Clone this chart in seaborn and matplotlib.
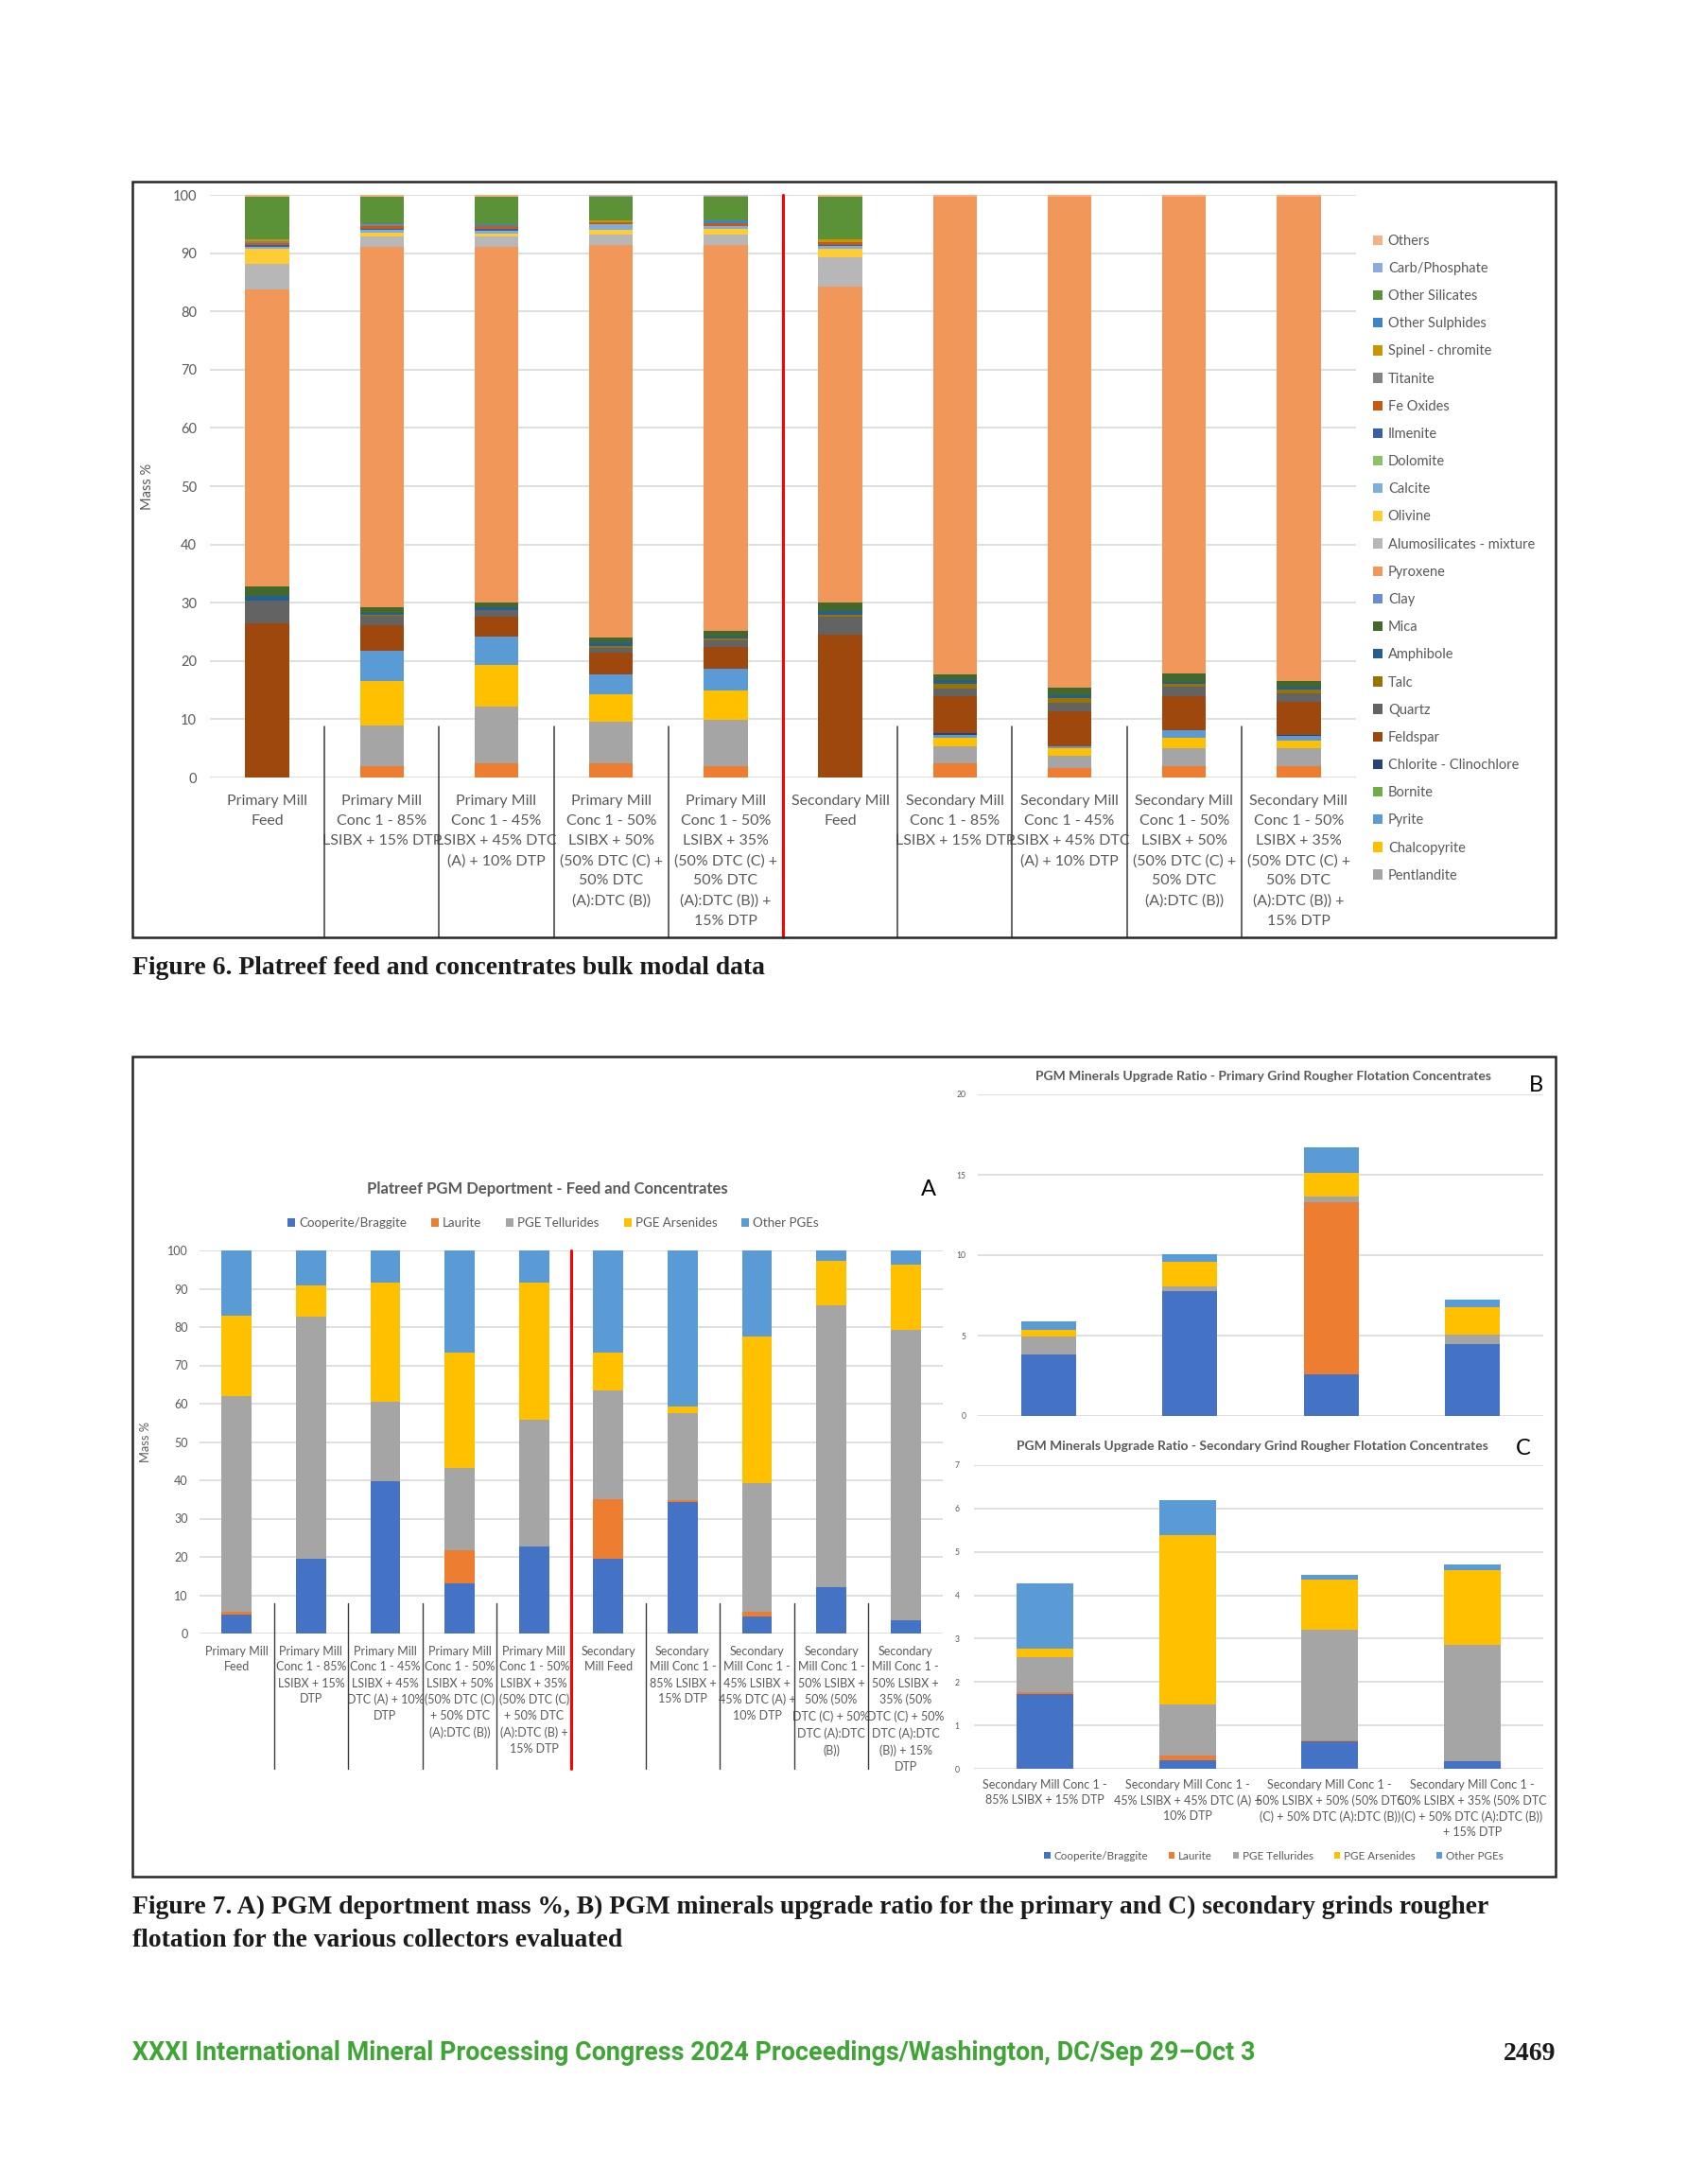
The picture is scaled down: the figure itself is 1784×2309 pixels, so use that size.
import numpy as np
import matplotlib
matplotlib.use("Agg")
import matplotlib.pyplot as plt
from matplotlib.patches import Patch, Rectangle
import seaborn as sns

W, H = 1784, 2309

# ---- Figure 6: bulk modal data (mass %) ----
f6_cats = ["PMF", "PM85", "PM45", "PM50", "PM35", "SMF", "SM85", "SM45", "SM50", "SM35"]
f6_labels = [
    "Primary Mill\nFeed",
    "Primary Mill\nConc 1 - 85%\nLSIBX + 15% DTP",
    "Primary Mill\nConc 1 - 45%\nLSIBX + 45% DTC\n(A) + 10% DTP",
    "Primary Mill\nConc 1 - 50%\nLSIBX + 50%\n(50% DTC (C) +\n50% DTC\n(A):DTC (B))",
    "Primary Mill\nConc 1 - 50%\nLSIBX + 35%\n(50% DTC (C) +\n50% DTC\n(A):DTC (B)) +\n15% DTP",
    "Secondary Mill\nFeed",
    "Secondary Mill\nConc 1 - 85%\nLSIBX + 15% DTP",
    "Secondary Mill\nConc 1 - 45%\nLSIBX + 45% DTC\n(A) + 10% DTP",
    "Secondary Mill\nConc 1 - 50%\nLSIBX + 50%\n(50% DTC (C) +\n50% DTC\n(A):DTC (B))",
    "Secondary Mill\nConc 1 - 50%\nLSIBX + 35%\n(50% DTC (C) +\n50% DTC\n(A):DTC (B)) +\n15% DTP",
]
pyrrhotite = [0, 2.0, 2.4, 2.4, 1.9, 0, 2.4, 1.65, 1.9, 2.0]
pentlandite = [0, 7.0, 9.8, 7.1, 7.95, 0, 3.0, 2.1, 3.15, 3.0]
chalcopyrite = [0, 7.6, 7.1, 4.8, 5.1, 0, 1.35, 1.25, 1.75, 1.4]
pyrite = [0, 5.1, 4.9, 3.4, 3.8, 0, 0.55, 0.4, 1.25, 0.7]
bornite = [0, 0, 0, 0, 0, 0, 0, 0, 0, 0]
chlorite = [0, 0, 0, 0, 0, 0, 0.25, 0, 0, 0.25]
feldspar = [26.5, 4.5, 3.35, 3.7, 3.7, 24.55, 6.35, 5.9, 5.85, 5.7]
quartz = [3.9, 1.5, 1.2, 0.9, 1.15, 3.1, 1.4, 1.6, 1.7, 1.35]
talc = [0, 0.3, 0, 0.25, 0.3, 0.35, 0.8, 0.7, 0.4, 0.65]
amphibole = [0.8, 0.3, 0.55, 0.65, 0.35, 0.65, 0.6, 0.55, 0.45, 0.55]
mica = [1.6, 1.0, 0.8, 0.9, 0.9, 1.35, 1.0, 1.2, 1.45, 1.0]
clay = [0, 0, 0, 0, 0, 0, 0, 0, 0, 0]
pyroxene = [51.0, 61.8, 61.0, 67.3, 66.25, 54.3, 82.0, 84.35, 81.8, 83.1]
alumosilicates = [4.3, 1.7, 1.7, 1.8, 1.75, 5.05, 0, 0, 0, 0]
olivine = [2.6, 0.7, 0.6, 0.85, 1.05, 1.45, 0, 0, 0, 0]
calcite = [0.4, 0.5, 0.5, 0.85, 0.5, 0.45, 0, 0, 0, 0]
dolomite = [0, 0, 0, 0, 0, 0, 0, 0, 0, 0]
ilmenite = [0.3, 0.2, 0.2, 0, 0, 0.2, 0, 0, 0, 0]
fe_oxides = [0.4, 0.4, 0.5, 0.45, 0.4, 0.45, 0, 0, 0, 0]
titanite = [0.2, 0.3, 0, 0, 0, 0, 0, 0, 0, 0]
spinel = [0.4, 0, 0, 0.2, 0, 0.5, 0, 0, 0, 0]
other_sulphides = [0, 0.3, 0.3, 0, 0.45, 0, 0, 0, 0, 0]
other_silicates = [7.2, 4.4, 4.7, 4.05, 4.05, 7.2, 0, 0, 0, 0]
carb_phosphate = [0, 0, 0, 0.3, 0.3, 0, 0, 0, 0, 0]
others = [0.4, 0.4, 0.4, 0.1, 0.1, 0.4, 0.3, 0.3, 0.3, 0.3]

# bottom -> top, (name, colour, values, in legend)
f6_series = [
    ("Pyrrhotite", "#ED7D31", pyrrhotite, False),
    ("Pentlandite", "#A5A5A5", pentlandite, True),
    ("Chalcopyrite", "#FFC000", chalcopyrite, True),
    ("Pyrite", "#5B9BD5", pyrite, True),
    ("Bornite", "#70AD47", bornite, True),
    ("Chlorite - Clinochlore", "#264478", chlorite, True),
    ("Feldspar", "#9E480E", feldspar, True),
    ("Quartz", "#636363", quartz, True),
    ("Talc", "#997300", talc, True),
    ("Amphibole", "#255E91", amphibole, True),
    ("Mica", "#43682B", mica, True),
    ("Clay", "#698ED0", clay, True),
    ("Pyroxene", "#F1975A", pyroxene, True),
    ("Alumosilicates - mixture", "#B7B7B7", alumosilicates, True),
    ("Olivine", "#FFCD33", olivine, True),
    ("Calcite", "#7CAFDD", calcite, True),
    ("Dolomite", "#8CC168", dolomite, True),
    ("Ilmenite", "#3A5DA6", ilmenite, True),
    ("Fe Oxides", "#C55A11", fe_oxides, True),
    ("Titanite", "#848484", titanite, True),
    ("Spinel - chromite", "#C99600", spinel, True),
    ("Other Sulphides", "#3C86C8", other_sulphides, True),
    ("Other Silicates", "#5B9238", other_silicates, True),
    ("Carb/Phosphate", "#8FAADC", carb_phosphate, True),
    ("Others", "#F4B183", others, True),
]

# ---- Figure 7A: PGM deportment (mass %) ----
a_cats = f6_cats
a_labels = [
    "Primary Mill\nFeed",
    "Primary Mill\nConc 1 - 85%\nLSIBX + 15%\nDTP",
    "Primary Mill\nConc 1 - 45%\nLSIBX + 45%\nDTC (A) + 10%\nDTP",
    "Primary Mill\nConc 1 - 50%\nLSIBX + 50%\n(50% DTC (C)\n+ 50% DTC\n(A):DTC (B))",
    "Primary Mill\nConc 1 - 50%\nLSIBX + 35%\n(50% DTC (C)\n+ 50% DTC\n(A):DTC (B) +\n15% DTP",
    "Secondary\nMill Feed",
    "Secondary\nMill Conc 1 -\n85% LSIBX +\n15% DTP",
    "Secondary\nMill Conc 1 -\n45% LSIBX +\n45% DTC (A) +\n10% DTP",
    "Secondary\nMill Conc 1 -\n50% LSIBX +\n50% (50%\nDTC (C) + 50%\nDTC (A):DTC\n(B))",
    "Secondary\nMill Conc 1 -\n50% LSIBX +\n35% (50%\nDTC (C) + 50%\nDTC (A):DTC\n(B)) + 15%\nDTP",
]
a_cooperite = [4.9, 19.6, 39.8, 13.2, 22.8, 19.4, 34.2, 4.45, 12.2, 3.45]
a_laurite = [0.8, 0, 0, 8.5, 0, 15.7, 0.5, 1.3, 0, 0]
a_tellurides = [56.2, 63.1, 20.6, 21.5, 33.0, 28.4, 22.75, 33.5, 73.6, 75.9]
a_arsenides = [21.0, 8.2, 31.1, 30.05, 35.7, 9.75, 1.8, 38.25, 11.5, 16.95]
a_other = [17.1, 9.1, 8.5, 26.75, 8.5, 26.75, 40.75, 22.5, 2.7, 3.7]

# ---- Figure 7B / 7C: upgrade ratios ----
bc_cats = ["85/15", "45/45/10", "50/50", "50/35/15"]
c_labels = [
    "Secondary Mill Conc 1 -\n85% LSIBX + 15% DTP",
    "Secondary Mill Conc 1 -\n45% LSIBX + 45% DTC (A) +\n10% DTP",
    "Secondary Mill Conc 1 -\n50% LSIBX + 50% (50% DTC\n(C) + 50% DTC (A):DTC (B))",
    "Secondary Mill Conc 1 -\n50% LSIBX + 35% (50% DTC\n(C) + 50% DTC (A):DTC (B))\n+ 15% DTP",
]
b_cooperite = [3.8, 7.75, 2.59, 4.47]
b_laurite = [0, 0, 10.72, 0]
b_tellurides = [1.14, 0.33, 0.36, 0.57]
b_arsenides = [0.39, 1.49, 1.47, 1.71]
b_other = [0.55, 0.51, 1.56, 0.5]
c_cooperite = [1.73, 0.2, 0.64, 0.17]
c_laurite = [0.04, 0.11, 0.02, 0.01]
c_tellurides = [0.8, 1.18, 2.55, 2.67]
c_arsenides = [0.19, 3.89, 1.15, 1.73]
c_other = [1.51, 0.82, 0.1, 0.13]

pgm_names = ["Cooperite/Braggite", "Laurite", "PGE Tellurides", "PGE Arsenides", "Other PGEs"]
pgm_colors = ["#4472C4", "#ED7D31", "#A5A5A5", "#FFC000", "#5B9BD5"]

TXT = "#595959"
GRID = "#D9D9D9"

sns.set_theme(style="white")
plt.rcParams["font.family"] = ["Lato", "DejaVu Sans"]


def rect(x0, y0, x1, y1):
    return [x0 / W, 1 - y1 / H, (x1 - x0) / W, (y1 - y0) / H]


def stacked(ax, cats, series, width):
    bottom = np.zeros(len(cats))
    for name, color, vals in series:
        vals = np.asarray(vals, dtype=float)
        sns.barplot(x=cats, y=vals, order=cats, bottom=bottom.copy(), color=color,
                    width=width, saturation=1, errorbar=None, linewidth=0,
                    edgecolor="none", ax=ax)
        bottom += vals


def style(ax, ticks, fs, pad):
    for s in ax.spines.values():
        s.set_visible(False)
    ax.set_yticks(ticks)
    ax.yaxis.grid(True, color=GRID, lw=1.2)
    ax.set_axisbelow(True)
    ax.tick_params(length=0, labelsize=fs, colors=TXT, pad=pad)
    ax.set_xlabel("")
    ax.set_ylabel("")


def separators(ax, n, y0, y1, red_at, lw=1.0):
    tr = ax.get_xaxis_transform()
    for i in range(n - 1):
        if i == red_at:
            ax.plot([i + 0.5, i + 0.5], [1.0, y1], transform=tr, clip_on=False,
                    color="#FF0000", lw=2.2)
        else:
            ax.plot([i + 0.5, i + 0.5], [y0, y1], transform=tr, clip_on=False,
                    color="#3A3A3A", lw=lw)


fig = plt.figure(figsize=(W / 100, H / 100), dpi=100)

# frames
fig.add_artist(Rectangle((140 / W, 1 - 991 / H), 1505 / W, 799 / H, transform=fig.transFigure,
                         fill=False, ec="#262626", lw=1.8))
fig.add_artist(Rectangle((140 / W, 1 - 1984 / H), 1505 / W, 867 / H, transform=fig.transFigure,
                         fill=False, ec="#262626", lw=1.8))

# ---- Figure 6 ----
ax6 = fig.add_axes(rect(222, 206, 1434, 822))
stacked(ax6, f6_cats, [(n, c, v) for n, c, v, _ in f6_series], 0.384)
style(ax6, range(0, 101, 10), 10.5, 10)
ax6.set_ylim(0, 100)
ax6.set_xlim(-0.5, 9.5)
ax6.set_xticks(range(len(f6_cats)))
ax6.set_xticklabels(f6_labels, fontsize=11.5, va="top")
ax6.tick_params(axis="x", pad=13)
for t in ax6.get_xticklabels():
    t.set_linespacing(1.63)
ax6.set_ylabel("Mass %", fontsize=10.5, color=TXT, labelpad=14)
separators(ax6, 10, 0.088, -0.274, 4, lw=1.1)

leg_handles = [Patch(facecolor=c, edgecolor="none", label=n)
               for n, c, _, show in reversed(f6_series) if show]
fig.legend(handles=leg_handles, loc="upper left", bbox_to_anchor=(1446 / W, 1 - 242 / H),
           frameon=False, fontsize=10.5, handlelength=0.7, handleheight=0.7,
           handletextpad=0.4, labelspacing=1.04, labelcolor=TXT, borderaxespad=0)

fig.text(140 / W, 1 - 1024 / H, "Figure 6. Platreef feed and concentrates bulk modal data",
         family="Liberation Serif", weight="bold", fontsize=19.9, va="center", color="#1a1a1a")

# ---- Figure 7A ----
axA = fig.add_axes(rect(211, 1322, 997, 1727))
stacked(axA, a_cats, list(zip(pgm_names, pgm_colors,
                              [a_cooperite, a_laurite, a_tellurides, a_arsenides, a_other])), 0.405)
style(axA, range(0, 101, 10), 9, 9)
axA.set_ylim(0, 100)
axA.set_xlim(-0.5, 9.5)
axA.set_xticks(range(len(a_cats)))
axA.set_xticklabels(a_labels, fontsize=9.0, va="top")
axA.tick_params(axis="x", pad=9)
for t in axA.get_xticklabels():
    t.set_linespacing(1.5)
axA.set_ylabel("Mass %", fontsize=9.3, color=TXT, labelpad=12)
separators(axA, 10, 0.079, -0.353, 4, lw=1.0)
fig.text(579 / W, 1 - 1257 / H, "Platreef PGM Deportment - Feed and Concentrates",
         ha="center", va="center", fontsize=12, weight="bold", color=TXT)
pgm_handles = [Patch(facecolor=c, edgecolor="none", label=n) for n, c in zip(pgm_names, pgm_colors)]
fig.legend(handles=pgm_handles, loc="center", bbox_to_anchor=(585 / W, 1 - 1293 / H), ncol=5,
           frameon=False, fontsize=9.6, handlelength=0.6, handleheight=0.6, handletextpad=0.3,
           columnspacing=1.95, labelcolor=TXT, borderaxespad=0)
fig.text(982 / W, 1 - 1258 / H, "A", ha="center", va="center", fontsize=17, color="black")

# ---- Figure 7B ----
axB = fig.add_axes(rect(1034, 1157, 1632, 1497))
stacked(axB, bc_cats, list(zip(pgm_names, pgm_colors,
                               [b_cooperite, b_laurite, b_tellurides, b_arsenides, b_other])), 0.39)
style(axB, range(0, 21, 5), 6.2, 9)
axB.set_ylim(0, 20)
axB.set_xlim(-0.5, 3.5)
axB.set_xticks([])
fig.text(1336 / W, 1 - 1138 / H,
         "PGM Minerals Upgrade Ratio - Primary Grind Rougher Flotation Concentrates",
         ha="center", va="center", fontsize=10, weight="bold", color=TXT)
fig.text(1624 / W, 1 - 1147 / H, "B", ha="center", va="center", fontsize=17, color="black")

# ---- Figure 7C ----
axC = fig.add_axes(rect(1030, 1549, 1632, 1870))
stacked(axC, bc_cats, list(zip(pgm_names, pgm_colors,
                               [c_cooperite, c_laurite, c_tellurides, c_arsenides, c_other])), 0.4)
style(axC, range(0, 8, 1), 6.2, 11)
axC.set_ylim(0, 7)
axC.set_xlim(-0.5, 3.5)
axC.set_xticks(range(len(bc_cats)))
axC.set_xticklabels(c_labels, fontsize=9, va="top")
axC.tick_params(axis="x", pad=8)
for t in axC.get_xticklabels():
    t.set_linespacing(1.4)
fig.text(1324 / W, 1 - 1529 / H,
         "PGM Minerals Upgrade Ratio - Secondary Grind Rougher Flotation Concentrates",
         ha="center", va="center", fontsize=10, weight="bold", color=TXT)
fig.text(1611 / W, 1 - 1532 / H, "C", ha="center", va="center", fontsize=17, color="black")
fig.legend(handles=pgm_handles, loc="center", bbox_to_anchor=(1347 / W, 1 - 1962 / H), ncol=5,
           frameon=False, fontsize=8.4, handlelength=0.55, handleheight=0.55, handletextpad=0.3,
           columnspacing=1.9, labelcolor=TXT, borderaxespad=0)

fig.text(140 / W, 1 - 2034 / H,
         "Figure 7. A) PGM deportment mass %, B) PGM minerals upgrade ratio for the primary and C) secondary grinds rougher\n"
         "flotation for the various collectors evaluated",
         family="Liberation Serif", weight="bold", fontsize=19.9, va="center",
         linespacing=1.5, color="#1a1a1a")

# footer
fig.text(140 / W, 1 - 2171 / H,
         "XXXI International Mineral Processing Congress 2024 Proceedings/Washington, DC/Sep 29\u2013Oct 3",
         family="Roboto", weight="bold", fontsize=19.4, va="center", color="#3FA535")
fig.text(1645 / W, 1 - 2171 / H, "2469", family="Liberation Serif", weight="bold",
         fontsize=20, ha="right", va="center", color="#1a1a1a")

fig.savefig("out.png", dpi=100, facecolor="white")
